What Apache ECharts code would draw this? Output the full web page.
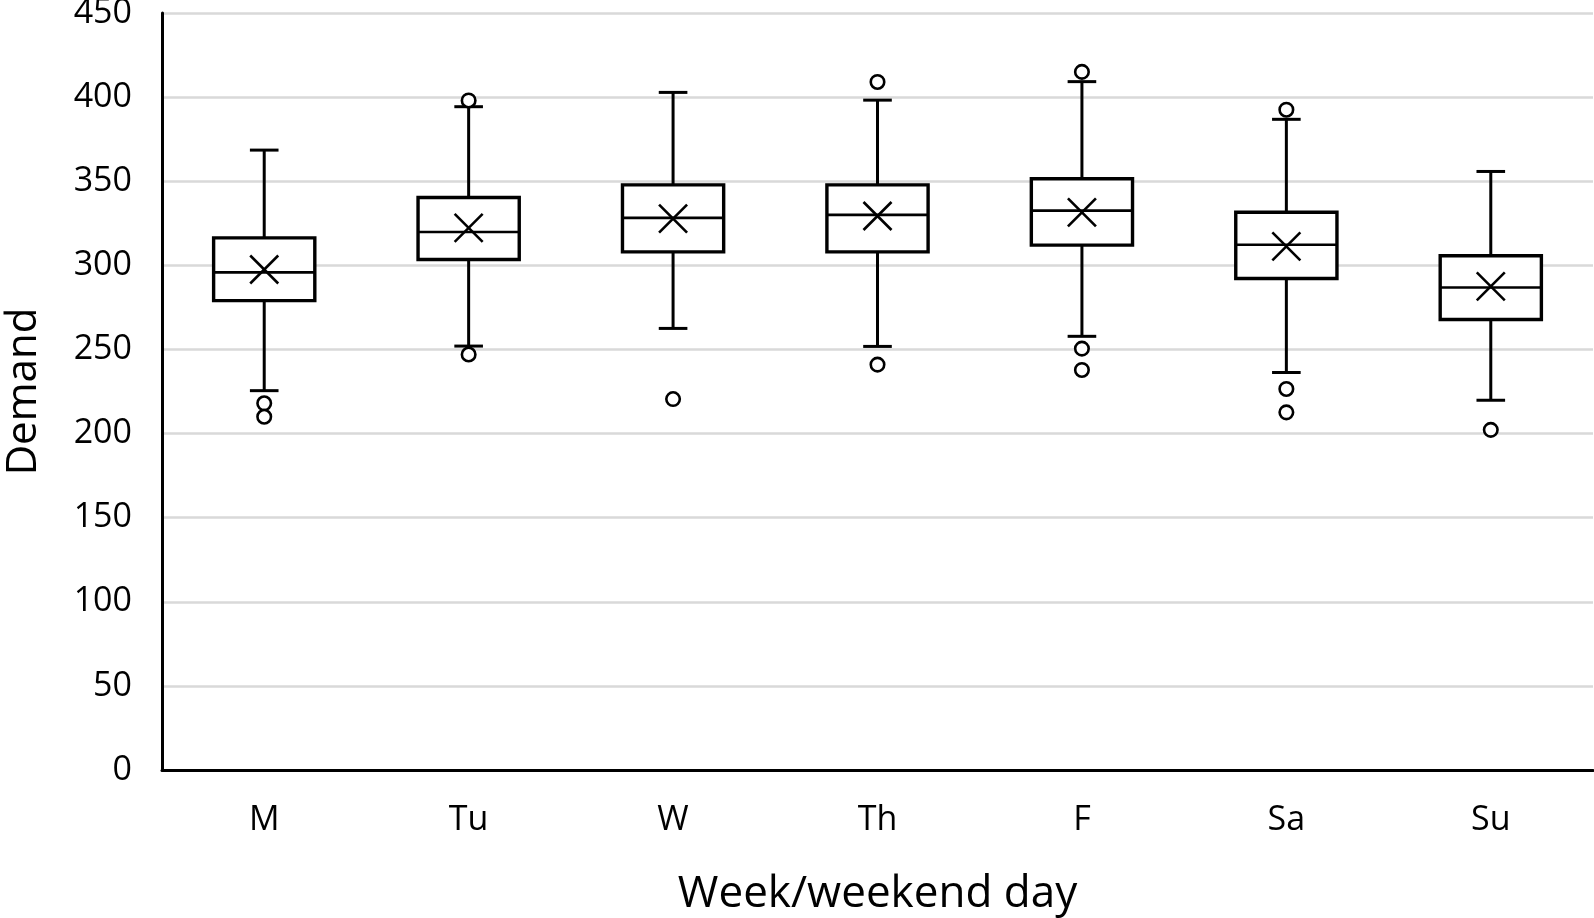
<!DOCTYPE html>
<html>
<head>
<meta charset="utf-8">
<script src="https://cdn.jsdelivr.net/npm/echarts@6/dist/echarts.min.js"></script>
<style>
  html, body { margin: 0; padding: 0; background: #fff; }
  #chart { width: 1594px; height: 918px; }
</style>
</head>
<body>
<div id="chart"></div>
<script>
// ---- Data ----
const categories = ['M', 'Tu', 'W', 'Th', 'F', 'Sa', 'Su'];
const lowerWhisker = [225.5, 252, 262.5, 251.8, 257.8, 236.3, 219.8];
const q1Values = [279, 303.5, 308, 308, 312, 292.2, 267.8];
const medianValues = [295.8, 319.8, 328.2, 330, 332.5, 312.2, 286.8];
const q3Values = [316.3, 340.3, 347.8, 347.8, 351.5, 331.6, 305.7];
const upperWhisker = [368.5, 394.3, 402.8, 398.2, 409.2, 386.8, 355.8];
const meanValues = [297.5, 322.3, 327.8, 329.3, 331.5, 311.3, 287.5];
// outliers: [category index, value]
const outlierPoints = [
  [0, 218], [0, 210],
  [1, 398], [1, 247],
  [2, 220.5],
  [3, 409], [3, 241],
  [4, 415], [4, 250.5], [4, 237.8],
  [5, 392.5], [5, 226.5], [5, 212.6],
  [6, 202.2]
];
const yTicks = { min: 0, max: 450, interval: 50 };
const xAxisTitle = 'Week/weekend day';
const yAxisTitle = 'Demand';

// ---- Build series data ----
const boxData = categories.map((c, i) => [i, lowerWhisker[i], q1Values[i], medianValues[i], q3Values[i], upperWhisker[i], meanValues[i]]);

const FONT = '"Open Sans", "Noto Sans", sans-serif';

function renderBox(params, api) {
  const x = api.value(0);
  const pLow = api.coord([x, api.value(1)]);
  const pQ1 = api.coord([x, api.value(2)]);
  const pMed = api.coord([x, api.value(3)]);
  const pQ3 = api.coord([x, api.value(4)]);
  const pHigh = api.coord([x, api.value(5)]);
  const pMean = api.coord([x, api.value(6)]);
  const band = api.size([1, 0])[0];
  const boxW = band * 0.495;
  const capW = band * 0.14;
  const cx = pMed[0];
  const lineStyle = { stroke: '#000', lineWidth: 3, fill: null };
  const xh = 14;
  return {
    type: 'group',
    children: [
      { type: 'line', shape: { x1: cx, y1: pQ3[1], x2: cx, y2: pHigh[1] }, style: lineStyle },
      { type: 'line', shape: { x1: cx, y1: pQ1[1], x2: cx, y2: pLow[1] }, style: lineStyle },
      { type: 'line', shape: { x1: cx - capW / 2, y1: pHigh[1], x2: cx + capW / 2, y2: pHigh[1] }, style: lineStyle },
      { type: 'line', shape: { x1: cx - capW / 2, y1: pLow[1], x2: cx + capW / 2, y2: pLow[1] }, style: lineStyle },
      { type: 'rect', shape: { x: cx - boxW / 2, y: pQ3[1], width: boxW, height: pQ1[1] - pQ3[1] },
        style: { fill: '#fff', stroke: '#000', lineWidth: 3.4 } },
      { type: 'line', shape: { x1: cx - boxW / 2, y1: pMed[1], x2: cx + boxW / 2, y2: pMed[1] }, style: { stroke: '#000', lineWidth: 2.6 } },
      { type: 'line', shape: { x1: cx - xh, y1: pMean[1] - xh, x2: cx + xh, y2: pMean[1] + xh }, style: { stroke: '#000', lineWidth: 2.6 } },
      { type: 'line', shape: { x1: cx - xh, y1: pMean[1] + xh, x2: cx + xh, y2: pMean[1] - xh }, style: { stroke: '#000', lineWidth: 2.6 } }
    ]
  };
}

const chart = echarts.init(document.getElementById('chart'), null, { renderer: 'canvas' });
chart.setOption({
  animation: false,
  backgroundColor: '#fff',
  grid: { left: 162, right: 1, top: 13, bottom: 148, containLabel: false, outerBoundsMode: 'none' },
  xAxis: {
    type: 'category',
    data: categories,
    boundaryGap: true,
    name: xAxisTitle,
    nameLocation: 'middle',
    nameGap: 102,
    nameTextStyle: { fontFamily: FONT, fontSize: 44, color: '#000' },
    axisLine: { show: true, lineStyle: { color: '#000', width: 3 } },
    axisTick: { show: false },
    axisLabel: { fontFamily: FONT, fontSize: 34, color: '#000', margin: 33 },
    splitLine: { show: false }
  },
  yAxis: {
    type: 'value',
    min: yTicks.min,
    max: yTicks.max,
    interval: yTicks.interval,
    name: yAxisTitle,
    nameLocation: 'middle',
    nameGap: 117,
    nameRotate: 90,
    nameTextStyle: { fontFamily: FONT, fontSize: 42, color: '#000' },
    axisLine: { show: true, lineStyle: { color: '#000', width: 3 } },
    axisTick: { show: false },
    axisLabel: { fontFamily: FONT, fontSize: 34, color: '#000', margin: 30, padding: [5, 0, 0, 0] },
    splitLine: { show: true, lineStyle: { color: '#d9d9d9', width: 2.5 } }
  },
  series: [
    {
      type: 'custom',
      renderItem: renderBox,
      data: boxData,
      encode: { x: 0, y: [1, 2, 3, 4, 5] },
      z: 3
    },
    {
      type: 'scatter',
      data: outlierPoints,
      symbol: 'circle',
      symbolSize: 13.5,
      itemStyle: { color: '#fff', borderColor: '#000', borderWidth: 2.6, opacity: 1 },
      z: 4
    }
  ]
});
</script>
</body>
</html>
